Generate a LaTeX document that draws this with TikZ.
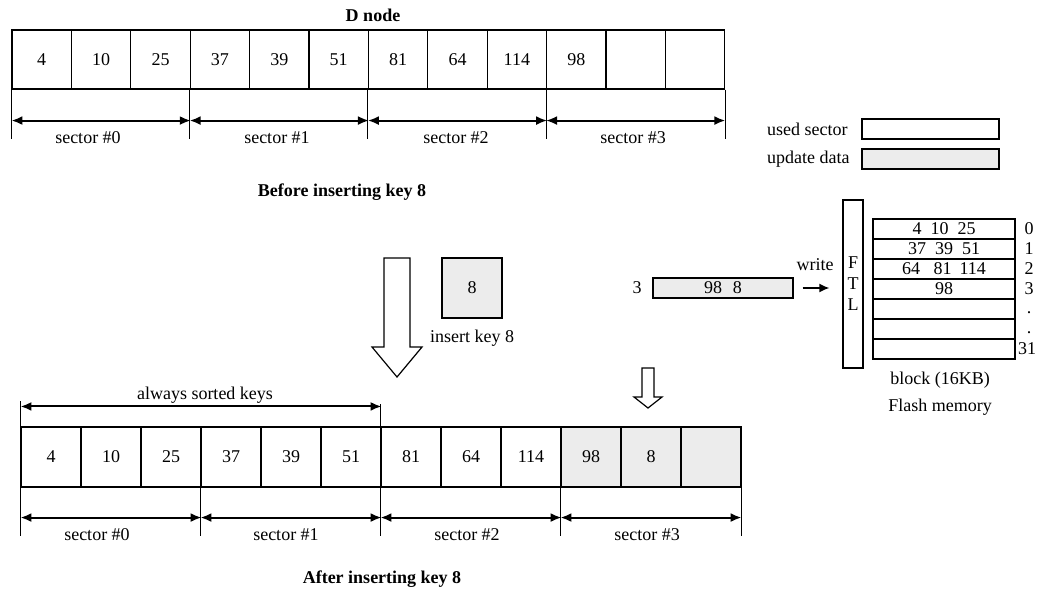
\documentclass[tikz,border=0pt]{standalone}
\usepackage{fontspec}
\setmainfont{Liberation Serif}
\usetikzlibrary{arrows.meta}
\definecolor{updgray}{HTML}{ECECEC}
\begin{document}
\begin{tikzpicture}[x=1pt,y=-1pt,
 every node/.style={font=\fontsize{18}{21}\selectfont, inner sep=0pt},
 cellA/.style={draw, line width=1.1pt, minimum width=59.4pt, minimum height=59pt},
 cellB/.style={draw, line width=1.1pt, minimum width=60pt, minimum height=60pt},
 tick/.style={line width=1.1pt},
 dimline/.style={line width=2pt, {Latex[length=11pt,width=9pt]}-{Latex[length=11pt,width=9pt]}},
 legbox/.style={draw, line width=1.2pt, minimum width=137pt, minimum height=20pt},
 rowbox/.style={draw, line width=1.1pt, minimum width=142pt, minimum height=20pt},
 hollow/.style={draw, line width=1.2pt, fill=white, line join=miter},
 ttl/.style={font=\fontsize{18}{21}\selectfont\bfseries}
]
\useasboundingbox (0,0) rectangle (1039,590);

% ---------- top array ----------
\node[ttl] (dnode) at (373,15) {D node};
\foreach \v [count=\i from 0] in {4,10,25,37,39,51,81,64,114,98,{},{}}
  \node[cellA] (t\i) at ({12+59.4*(\i+0.5)},59.5) {\v};
\foreach \a in {0,3,6,9}
  \draw[tick] (t\a.south west) -- ++(0,49);
\draw[tick] (t11.south east) -- ++(0,49);
\foreach \a/\b in {0/2,3/5,6/8,9/11}
  \draw[dimline] ([yshift=-31pt]t\a.south west) -- ([yshift=-31pt]t\b.south east);
\node (ts0) at (88,138) {sector \#0};
\node (ts1) at (277,138) {sector \#1};
\node (ts2) at (456,138) {sector \#2};
\node (ts3) at (633,138) {sector \#3};
\node[ttl] (before) at (342,192) {Before inserting key 8};

% ---------- legend ----------
\node[anchor=west] (lused) at (767,129) {used sector};
\node[legbox] (bused) at (930.5,129) {};
\node[anchor=west] (lupd) at (767,159) {update data};
\node[legbox, fill=updgray] (bupd) at (930.5,159) {};

% ---------- middle ----------
\draw[hollow] (384,258) -- (410,258) -- (410,347) -- (422,347) -- (397,377) -- (372,347) -- (384,347) -- cycle;
\node[draw, line width=1.2pt, fill=updgray, minimum width=60pt, minimum height=60pt] (newkey) at (472,288) {8};
\node (inslbl) at (472,338) {insert key 8};

\node (secno) at (637,288) {3};
\node[draw, line width=1.2pt, fill=updgray, minimum width=140pt, minimum height=20pt] (upd) at (723,288) {98\hspace{0.6em}8};
\node[draw, line width=1.2pt, minimum width=20pt, minimum height=168pt, align=center,
      font=\fontsize{18}{21}\selectfont] (ftl) at (853,284) {F\\T\\L};
\draw[line width=1.6pt, -{Latex[length=10pt,width=9pt]}, shorten <=9pt, shorten >=13pt] (upd.east) -- (ftl.west |- upd.east);
\node (write) at (815,265) {write};

\foreach \t [count=\i from 0] in {{4\hspace{0.5em}10\hspace{0.5em}25},{37\hspace{0.5em}39\hspace{0.5em}51},{64\hspace{0.75em}81\hspace{0.45em}114},{98},{},{},{}}
  \node[rowbox] (f\i) at (944,{229+20*\i}) {\t};
\node (n0) at (1029,229) {0};
\node (n1) at (1029,249) {1};
\node (n2) at (1029,269) {2};
\node (n3) at (1029,289) {3};
\node (n4) at (1029,313) {.};
\node (n5) at (1029,333) {.};
\node (n6) at (1027,349) {31};
\node (blk) at (940,380) {block (16KB)};
\node (flash) at (940,407) {Flash memory};

\draw[hollow] (642,368) -- (654,368) -- (654,397) -- (662,397) -- (648,408) -- (634,397) -- (642,397) -- cycle;

% ---------- bottom array ----------
\foreach \v [count=\i from 0] in {4,10,25,37,39,51,81,64,114,98,8,{}} {
  \ifnum\i>8 \def\cf{updgray}\else\def\cf{white}\fi
  \node[cellB, fill=\cf] (b\i) at ({21+60*(\i+0.5)},457) {\v};
}
\draw[tick] (b0.north west) -- ++(0,-25);
\draw[tick] (b6.north west) -- ++(0,-22);
\draw[dimline] ([yshift=20pt]b0.north west) -- ([yshift=20pt]b5.north east);
\node (sorted) at (205,395) {always sorted keys};
\foreach \a in {0,3,6,9}
  \draw[tick] (b\a.south west) -- ++(0,48);
\draw[tick] (b11.south east) -- ++(0,48);
\foreach \a/\b in {0/2,3/5,6/8,9/11}
  \draw[dimline] ([yshift=-30pt]b\a.south west) -- ([yshift=-30pt]b\b.south east);
\node (bs0) at (97,535) {sector \#0};
\node (bs1) at (286,535) {sector \#1};
\node (bs2) at (467,535) {sector \#2};
\node (bs3) at (647,535) {sector \#3};
\node[ttl] (after) at (382,579) {After inserting key 8};
\end{tikzpicture}
\end{document}
